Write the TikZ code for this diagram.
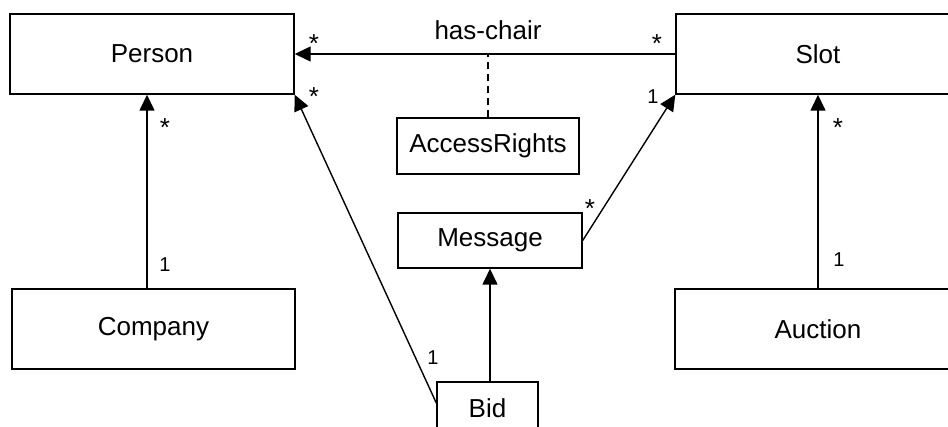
\documentclass[tikz,border=0pt]{standalone}
\usepackage{fontspec}
\setmainfont{Liberation Sans}
\usetikzlibrary{arrows.meta}

\begin{document}
\begin{tikzpicture}[x=1pt,y=-1pt,
    cls/.style={draw, line width=1.4pt, rectangle, inner sep=0pt,
      font=\fontsize{26}{31}\selectfont},
    mult/.style={anchor=base, inner sep=0pt, font=\fontsize{20}{24}\selectfont},
    many/.style={anchor=base, inner sep=0pt, font=\fontsize{26}{31}\selectfont},
    assoc/.style={line width=1.4pt, -{Triangle[length=16pt,width=15pt]}}]
          \clip (0,0) rectangle (948,427);
          % classes
          \node (person) at (152,54) [cls, minimum width=284, minimum height=80] {Person};
          \node (slot) at (818,54) [cls, minimum width=284, minimum height=80] {Slot};
          \node (company) at (153.5,329) [cls, minimum width=283, minimum height=80] {Company};
          \node (auction) at (818,329) [cls, minimum width=286, minimum height=80] {Auction};
          \node (rights) at (488,146) [cls, minimum width=182, minimum height=56] {AccessRights};
          \node (message) at (490,240.5) [cls, minimum width=184, minimum height=55] {Message};
          \node (bid) at (487.5,408) [cls, minimum width=101, minimum height=52] {Bid};
          % associations
          \draw[assoc] (slot.west) to (person.east);
          \draw[line width=1.2pt, dash pattern=on 7pt off 5pt] (rights.north) to (rights.north |- person.east);
          \draw[assoc] ([xshift=-6.5pt]company.north) to ([xshift=-5pt]person.south);
          \draw[assoc] (auction.north) to (slot.south);
          \draw[assoc] (bid.north -| message.south) to (message.south);
          \draw[assoc] (message.east) to (slot.south west);
          \draw[assoc] ([yshift=5pt]bid.west) to (person.south east);
          % labels
          \draw (488,40) node (chair) [anchor=base, inner sep=0pt, font=\fontsize{26}{31}\selectfont] {has-chair};
          \draw (314,53) node (m1) [many] {*};
          \draw (657,53) node (m2) [many] {*};
          \draw (314,106) node (m3) [many] {*};
          \draw (165,137) node (m4) [many] {*};
          \draw (838,137) node (m5) [many] {*};
          \draw (590,218) node (m6) [many] {*};
          \draw (653,104) node (m7) [mult] {1};
          \draw (165,272) node (m8) [mult] {1};
          \draw (839,267) node (m9) [mult] {1};
          \draw (433,365) node (m10) [mult] {1};
        \end{tikzpicture}
\end{document}
